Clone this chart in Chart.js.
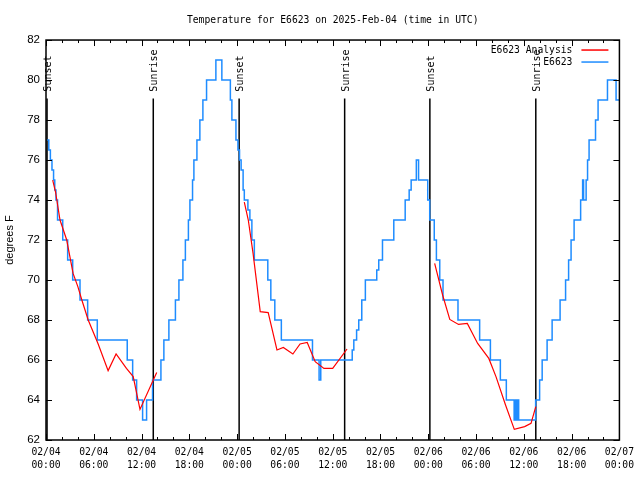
<!DOCTYPE html>
<html>
<head>
<meta charset="utf-8">
<script src="https://cdn.jsdelivr.net/npm/chart.js@4.4.1/dist/chart.umd.min.js"></script>
<style>
html,body{margin:0;padding:0;background:#fff;}
</style>
</head>
<body>
<canvas id="tempChart" width="640" height="480"></canvas>
<script>

// hours since 02/04 00:00 UTC

const obsHours = [0.15,0.35,0.55,0.75,0.95,1.1,1.25,1.45,2.1,2.72,3.35,4.27,5.23,6.44,10.2,10.88,11.38,12.13,12.63,13.38,
14.43,14.8,15.43,16.25,16.69,17.19,17.5,17.88,18.07,18.4,18.57,18.95,19.32,19.7,20.16,21.33,22.08,23.15,23.34,23.85,
24.1,24.3,24.5,24.75,24.9,25.35,25.6,25.85,26.16,27.85,28.23,28.73,29.55,33.46,34.29,34.5,38.45,38.65,39.0,39.27,
39.65,40.1,41.53,41.78,42.25,43.67,45.1,45.6,45.85,46.5,46.78,47.93,48.18,48.75,49.02,49.44,49.85,51.73,54.45,55.8,
57.05,57.8,58.78,58.97,59.14,59.22,59.35,61.48,61.98,62.3,62.92,63.55,64.55,65.24,65.62,65.93,66.31,67.13,67.38,67.5,
67.82,68.0,68.19,69.0,69.32,70.5,71.58,72];

const obsTemps = [77,76.5,76,75.5,75,74.5,74,73,72,71,70,69,68,67,66,65,64,63,64,65,
66,67,68,69,70,71,72,73,74,75,76,77,78,79,80,81,80,79,78,77,
76.5,76,75.5,74.5,74,73.5,73,72,71,70,69,68,67,66,65,66,66.5,67,67.5,68,
69,70,70.5,71,72,73,74,74.5,75,76,75,74,73,72,71,70,69,68,67,66,
65,64,63,64,63,64,63,64,65,66,67,68,69,70,71,72,73,74,75,74,
75,76,77,78,79,80,79,79];

// analysis runs, null = gap between runs
const anaHours = [0.84,1.2,1.76,2.6,3.4,4.0,4.5,5.3,6.55,7.8,8.8,10.1,10.95,11.8,13.9,
20,
24.9,25.4,26.0,26.9,27.9,29.0,29.8,31.0,31.9,32.8,33.8,34.9,36.0,37.8,
44,
48.8,49.8,50.7,51.8,52.9,54.2,55.6,56.5,57.7,58.8,60.1,60.9,61.5];

const anaTemps = [75,74.4,73,72,70.33,69.67,69,68,66.8,65.47,66.3,65.58,65.17,63.53,65.37,
null,
73.9,73,71.33,68.42,68.37,66.5,66.63,66.3,66.8,66.88,65.92,65.58,65.58,66.55,
null,
70.83,69.25,68.03,67.78,67.83,66.83,66.08,65.17,63.75,62.53,62.67,62.83,63.67];

const sunHours = [0.13,13.47,24.25,37.5,48.2,61.5];
const sunLabels = ["Sunset","Sunrise","Sunset","Sunrise","Sunset","Sunrise"];

const tickDates = ["02/04","02/04","02/04","02/04","02/05","02/05","02/05","02/05","02/06","02/06","02/06","02/06","02/07"];
const tickTimes = ["00:00","06:00","12:00","18:00","00:00","06:00","12:00","18:00","00:00","06:00","12:00","18:00","00:00"];

const monoFont = "'DejaVu Sans Mono', monospace";

// gnuplot style frame, inward ticks, sun lines and key

const gnuplotBits = {
id:"gnuplotBits",
beforeDatasetsDraw(chart){
const ctx=chart.ctx, a=chart.chartArea, xs=chart.scales.x, ys=chart.scales.y;
ctx.save();
ctx.strokeStyle="#000";
ctx.lineWidth=1.5;
ctx.fillStyle="#000";
ctx.font="10px "+monoFont;
sunHours.forEach((h,i)=>{
const px=xs.getPixelForValue(h);
ctx.beginPath();
ctx.moveTo(px,ys.getPixelForValue(79.08));
ctx.lineTo(px,a.bottom);
ctx.stroke();
ctx.save();
ctx.translate(px+1.5,ys.getPixelForValue(79.42));
ctx.rotate(-Math.PI/2);
ctx.textAlign="left";
ctx.textBaseline="middle";
ctx.fillText(sunLabels[i],0,0);
ctx.restore();
});
ctx.restore();
},
afterDatasetsDraw(chart){
const ctx=chart.ctx, a=chart.chartArea, xs=chart.scales.x, ys=chart.scales.y;
ctx.save();
ctx.strokeStyle="#000";
ctx.lineWidth=1.5;
ctx.strokeRect(a.left,a.top,a.right-a.left,a.bottom-a.top);
ctx.lineWidth=1;
ctx.beginPath();
for(let h=0;h<=72;h+=2){
const px=Math.round(xs.getPixelForValue(h))+0.5;
const len=(h%6===0)?6:3;
ctx.moveTo(px,a.bottom);ctx.lineTo(px,a.bottom-len);
ctx.moveTo(px,a.top);ctx.lineTo(px,a.top+len);
}
for(let t=62;t<=82;t+=2){
const py=Math.round(ys.getPixelForValue(t))+0.5;
ctx.moveTo(a.left,py);ctx.lineTo(a.left+6,py);
ctx.moveTo(a.right,py);ctx.lineTo(a.right-6,py);
}
ctx.stroke();

// key
ctx.font="9.7px "+monoFont;
ctx.textAlign="right";
ctx.textBaseline="middle";
const keyOrder=[1,0];
keyOrder.forEach((d,i)=>{
const ds=chart.data.datasets[d];
const y=a.top+10+i*12;
ctx.fillStyle="#000";
ctx.fillText(ds.label,a.right-47,y);
ctx.strokeStyle=ds.borderColor;
ctx.lineWidth=1.5;
ctx.beginPath();
ctx.moveTo(a.right-38,y);
ctx.lineTo(a.right-11,y);
ctx.stroke();
});
ctx.restore();
}
};

new Chart(document.getElementById("tempChart"),{

type:"line",

data:{
datasets:[
{
label:"E6623",
data:obsHours.map((h,i)=>({x:h,y:obsTemps[i]})),
borderColor:"#1e8cff",
borderWidth:1.5,
pointRadius:0,
stepped:"before",
order:2
},
{
label:"E6623 Analysis",
data:anaHours.map((h,i)=>({x:h,y:anaTemps[i]})),
borderColor:"#ff0000",
borderWidth:1.2,
pointRadius:0,
spanGaps:false,
order:1
}
]
},

options:{
responsive:false,
animation:false,
layout:{padding:{left:0,right:20,top:0,bottom:0}},
plugins:{
legend:{display:false},
tooltip:{enabled:false},
title:{
display:true,
fullSize:false,
text:"Temperature for E6623 on 2025-Feb-04 (time in UTC)",
color:"#000",
font:{family:monoFont,size:9.7,weight:"normal"},
padding:{top:15,bottom:13.4}
}
},
scales:{
x:{
type:"linear",
min:0,
max:72,
grid:{display:false,drawTicks:false},
border:{display:false},
ticks:{
stepSize:6,
autoSkip:false,
maxRotation:0,
padding:6,
color:"#000",
font:{family:monoFont,size:9.7,lineHeight:1.34},
callback:v=>{const i=Math.round(v/6);return [tickDates[i],tickTimes[i]];}
},
afterFit:s=>{s.height=40;}
},
y:{
min:62,
max:82,
grid:{display:false,drawTicks:false},
border:{display:false},
ticks:{
stepSize:2,
padding:6,
color:"#000",
font:{family:"'Liberation Sans', sans-serif",size:11.5}
},
title:{
display:true,
text:"degrees F",
color:"#000",
padding:{top:3,bottom:0},
font:{family:"'Liberation Sans', sans-serif",size:11}
},
afterFit:s=>{s.width=46;}
}
}
},

plugins:[gnuplotBits]

});

</script>
</body>
</html>
